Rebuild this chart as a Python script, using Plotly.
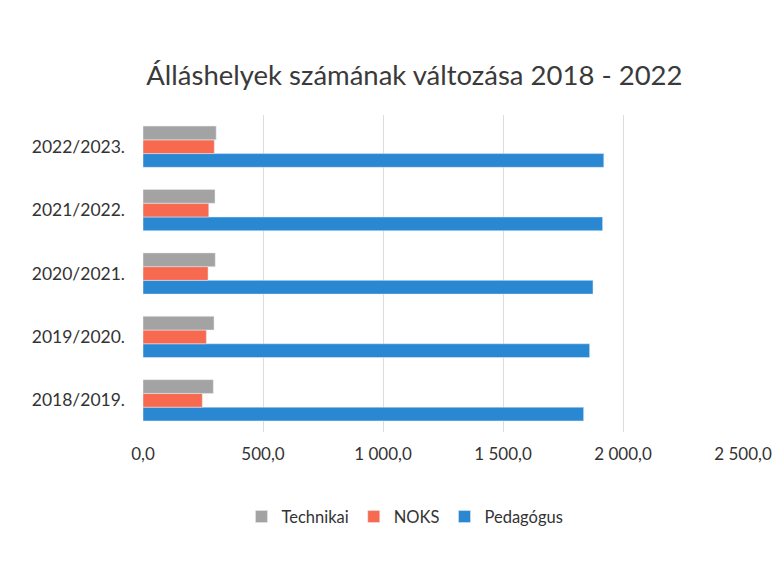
import plotly.graph_objects as go

categories = ["2018/2019.", "2019/2020.", "2020/2021.", "2021/2022.", "2022/2023."]
technikai = [293, 296, 301, 300, 305]
noks = [247, 264, 271, 274, 297]
pedagogus = [1836, 1861, 1875, 1915, 1920]
tick_vals = [0, 500, 1000, 1500, 2000, 2500]
tick_text = ["0,0", "500,0", "1 000,0", "1 500,0", "2 000,0", "2 500,0"]

FONT = "Lato, Open Sans, sans-serif"

fig = go.Figure()
fig.add_trace(go.Bar(y=categories, x=pedagogus, name="Pedagógus", orientation="h",
                     marker_color="#2A88D2"))
fig.add_trace(go.Bar(y=categories, x=noks, name="NOKS", orientation="h",
                     marker_color="#F76A4F"))
fig.add_trace(go.Bar(y=categories, x=technikai, name="Technikai", orientation="h",
                     marker_color="#A3A3A3"))

fig.update_layout(
    width=783, height=561,
    paper_bgcolor="white", plot_bgcolor="white",
    margin=dict(l=135, r=48, t=107, b=137),
    barmode="group", bargap=0.35, bargroupgap=0,
    title=dict(text="Álláshelyek számának változása 2018 - 2022",
               xref="container", x=0.519, xanchor="center",
               yref="container", y=0.88, yanchor="middle",
               font=dict(family=FONT, size=27.5, color="#3A3A3A")),
    font=dict(family=FONT, size=16, color="#333333"),
    legend=dict(orientation="h", traceorder="reversed",
                xref="container", x=0.507, xanchor="center",
                yref="container", y=0.093, yanchor="middle", itemwidth=30,
                font=dict(family=FONT, size=16.5, color="#333333")),
    showlegend=True,
)
fig.update_xaxes(range=[0, 2500], tickvals=tick_vals, ticktext=tick_text,
                 showgrid=True, gridcolor="#DDDDDD", zeroline=False, showline=False,
                 ticks="", ticklabelstandoff=10, tickfont=dict(size=17),
                 automargin=False)
fig.update_yaxes(showgrid=False, zeroline=False, showline=False, ticks="",
                 ticklabelstandoff=17, tickfont=dict(size=17.5), automargin=False)

fig.write_html("out.html")
